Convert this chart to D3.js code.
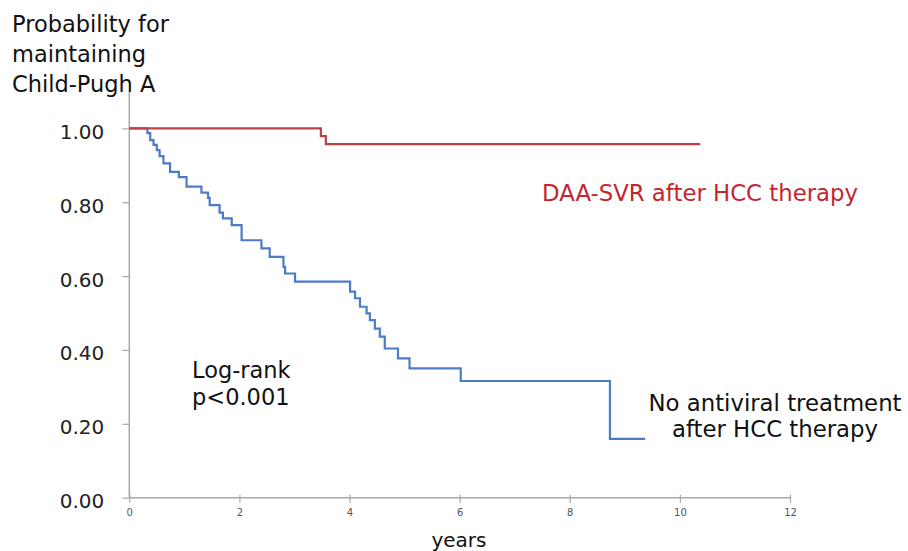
<!DOCTYPE html>
<html>
<head>
<meta charset="utf-8">
<script src="https://cdn.jsdelivr.net/npm/d3@7"></script>
<style>
  html, body { margin: 0; padding: 0; background: #fff; }
  svg { display: block; }
  text { font-family: "DejaVu Sans", Verdana, sans-serif; }
</style>
</head>
<body>
<svg id="chart" width="908" height="551"></svg>
<script>
// ---- data ----
const yTickValues = [0, 0.2, 0.4, 0.6, 0.8, 1.0];
const xTickValues = [0, 2, 4, 6, 8, 10, 12];

const daaTimes  = [0, 3.48, 3.57, 10.37];
const daaValues = [1.00, 0.979, 0.957, 0.957];

const noAvTimes  = [0, 0.33, 0.38, 0.44, 0.50, 0.55, 0.62, 0.74, 0.90, 1.04, 1.31, 1.43, 1.46, 1.64, 1.70, 1.86, 2.04, 2.40, 2.55, 2.80, 2.83, 3.01, 4.01, 4.10, 4.19, 4.31, 4.37, 4.46, 4.55, 4.64, 4.88, 5.09, 6.02, 8.73, 9.37];
const noAvValues = [1.00, 0.987, 0.968, 0.955, 0.941, 0.925, 0.905, 0.882, 0.868, 0.842, 0.826, 0.812, 0.792, 0.772, 0.756, 0.738, 0.697, 0.675, 0.652, 0.625, 0.607, 0.585, 0.558, 0.540, 0.517, 0.499, 0.481, 0.458, 0.436, 0.404, 0.377, 0.350, 0.316, 0.159, 0.159];

const titleLines = ["Probability for", "maintaining", "Child-Pugh A"];
const xTitle = "years";
const daaLabel = "DAA-SVR after HCC therapy";
const noAvLabel = ["No antiviral treatment", "after HCC therapy"];
const statLabel = ["Log-rank", "p<0.001"];

// ---- drawing ----
const svg = d3.select("#chart");
const x = d3.scaleLinear().domain([0, 12]).range([129.3, 790]);
const y = d3.scaleLinear().domain([0, 1.1]).range([497.7, 91.4]);

const axisColor = "#a8a8a8";

// y axis
const yAxis = svg.append("g").attr("transform", `translate(${x(0)},0)`)
  .call(d3.axisLeft(y).tickValues(yTickValues).tickFormat(d3.format(".2f")).tickSize(7).tickPadding(18));
yAxis.select(".domain").attr("stroke", axisColor).attr("stroke-width", 1.5).attr("d", `M0,${y(1.1)}V${y(0)}`);
yAxis.selectAll(".tick line").attr("stroke", axisColor).attr("stroke-width", 1.2);
yAxis.selectAll(".tick text").attr("font-size", 20).attr("fill", "#222")
  .attr("font-family", "DejaVu Sans").attr("dy", "0.5em");

// x axis
const xAxis = svg.append("g").attr("transform", `translate(0,${y(0)})`)
  .call(d3.axisBottom(x).tickValues(xTickValues).tickFormat(d3.format("d")).tickSize(5).tickPadding(6));
xAxis.select(".domain").attr("stroke", axisColor).attr("stroke-width", 1.5).attr("d", `M${x(0)},0H${x(12)}`);
xAxis.selectAll(".tick line").attr("stroke", axisColor).attr("stroke-width", 1.2).attr("y1", -3);
xAxis.selectAll(".tick text").attr("font-size", 10).attr("fill", "#555").attr("font-family", "DejaVu Sans");

// curves
const line = d3.line().x(d => x(d[0])).y(d => y(d[1])).curve(d3.curveStepAfter);
svg.append("path").datum(d3.zip(noAvTimes, noAvValues))
  .attr("d", line).attr("fill", "none").attr("stroke", "#4d7cc5").attr("stroke-width", 2.2);
svg.append("path").datum(d3.zip(daaTimes, daaValues))
  .attr("d", line).attr("fill", "none").attr("stroke", "#b9424a").attr("stroke-width", 2.2);

// titles
svg.append("g").selectAll("text").data(titleLines).join("text")
  .attr("x", 12).attr("y", (d, i) => 32 + i * 30)
  .attr("font-size", 22.5).attr("fill", "#111").text(d => d);

svg.append("text").attr("x", 459).attr("y", 547).attr("text-anchor", "middle")
  .attr("font-size", 20).attr("fill", "#111").text(xTitle);

svg.append("text").attr("x", 542).attr("y", 201)
  .attr("font-size", 22.8).attr("fill", "#c4262e").text(daaLabel);

svg.append("g").selectAll("text").data(noAvLabel).join("text")
  .attr("x", 775).attr("y", (d, i) => 411 + i * 26).attr("text-anchor", "middle")
  .attr("font-size", 22.8).attr("fill", "#111").text(d => d);

svg.append("g").selectAll("text").data(statLabel).join("text")
  .attr("x", 192).attr("y", (d, i) => 378 + i * 27)
  .attr("font-size", 22.5).attr("fill", "#111").text(d => d);
</script>
</body>
</html>
